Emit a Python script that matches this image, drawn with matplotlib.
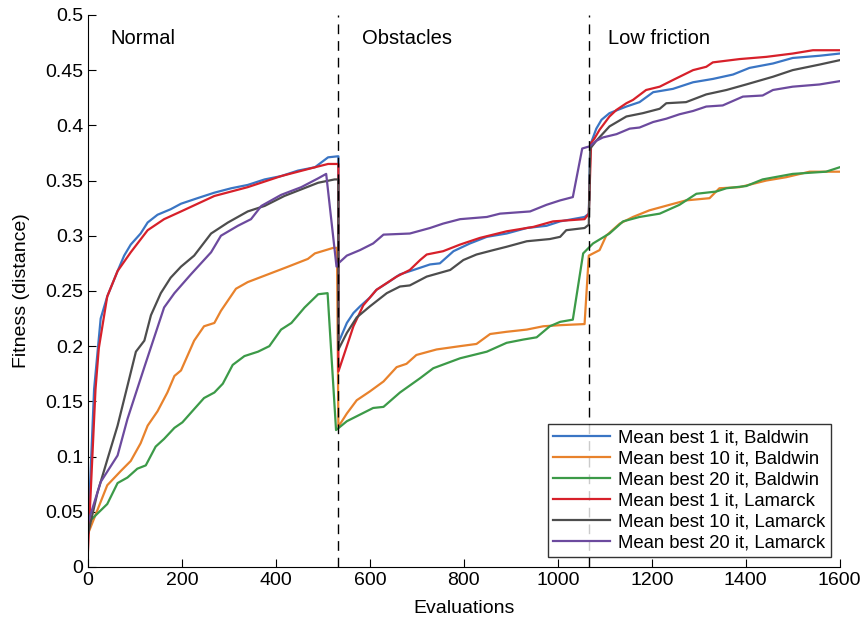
import numpy as np
import matplotlib
matplotlib.use("Agg")
import matplotlib.pyplot as plt

plt.rcParams['font.family'] = ['Liberation Sans', 'DejaVu Sans']

# (evaluations, fitness)
bw1 = [(0, 0.030), (13, 0.161), (27, 0.225), (41, 0.245), (63, 0.268), (77, 0.282), (91, 0.292),
       (112, 0.302), (127, 0.312), (148, 0.319), (176, 0.324), (198, 0.329), (233, 0.334), (269, 0.339),
       (305, 0.343), (340, 0.346), (376, 0.351), (411, 0.354), (447, 0.359), (483, 0.362), (511, 0.371),
       (533, 0.372), (533, 0.203), (551, 0.221), (565, 0.230), (579, 0.236), (600, 0.244), (614, 0.251),
       (636, 0.257), (664, 0.265), (693, 0.269), (728, 0.274), (749, 0.275), (778, 0.286), (813, 0.293),
       (849, 0.299), (891, 0.302), (934, 0.307), (976, 0.309), (1005, 0.313), (1057, 0.317), (1066, 0.320),
       (1069, 0.382), (1082, 0.397), (1093, 0.405), (1110, 0.411), (1146, 0.417), (1174, 0.421),
       (1203, 0.430), (1245, 0.433), (1288, 0.439), (1330, 0.442), (1373, 0.446), (1408, 0.452),
       (1458, 0.456), (1500, 0.461), (1557, 0.463), (1600, 0.465)]

bw10 = [(0, 0.030), (41, 0.074), (70, 0.087), (91, 0.096), (112, 0.112), (127, 0.128), (148, 0.141),
        (169, 0.158), (184, 0.173), (198, 0.178), (226, 0.205), (247, 0.218), (269, 0.221), (283, 0.232),
        (315, 0.252), (340, 0.258), (383, 0.265), (426, 0.272), (468, 0.279), (483, 0.284), (522, 0.289),
        (530, 0.289), (533, 0.127), (551, 0.139), (572, 0.151), (600, 0.159), (629, 0.168), (657, 0.181),
        (678, 0.184), (699, 0.192), (742, 0.197), (792, 0.200), (827, 0.202), (856, 0.211), (891, 0.213),
        (934, 0.215), (969, 0.218), (1005, 0.219), (1057, 0.220), (1066, 0.282), (1089, 0.287),
        (1103, 0.300), (1132, 0.311), (1160, 0.317), (1195, 0.323), (1238, 0.328), (1273, 0.332),
        (1323, 0.334), (1344, 0.343), (1387, 0.344), (1444, 0.350), (1486, 0.353), (1536, 0.358),
        (1600, 0.358)]

bw20 = [(0, 0.040), (41, 0.057), (63, 0.076), (84, 0.081), (105, 0.089), (123, 0.092), (144, 0.109),
        (162, 0.116), (184, 0.126), (201, 0.131), (226, 0.143), (247, 0.153), (269, 0.158), (287, 0.166),
        (308, 0.183), (333, 0.191), (362, 0.195), (386, 0.200), (411, 0.215), (433, 0.221), (461, 0.235),
        (490, 0.247), (510, 0.248), (528, 0.124), (551, 0.132), (607, 0.144), (629, 0.145), (664, 0.158),
        (707, 0.171), (735, 0.180), (792, 0.189), (849, 0.195), (891, 0.203), (927, 0.206), (955, 0.208),
        (983, 0.218), (1005, 0.222), (1032, 0.224), (1054, 0.284), (1075, 0.293), (1110, 0.302),
        (1139, 0.313), (1174, 0.317), (1217, 0.320), (1259, 0.328), (1295, 0.338), (1337, 0.340),
        (1359, 0.343), (1401, 0.345), (1436, 0.351), (1500, 0.356), (1571, 0.358), (1600, 0.362)]

lm1 = [(0, 0.015), (16, 0.161), (23, 0.198), (41, 0.245), (63, 0.268), (91, 0.285), (127, 0.305),
       (162, 0.315), (198, 0.322), (269, 0.336), (340, 0.344), (411, 0.354), (483, 0.362), (511, 0.365),
       (533, 0.365), (533, 0.177), (544, 0.191), (565, 0.218), (586, 0.237), (614, 0.251), (657, 0.263),
       (685, 0.269), (707, 0.278), (721, 0.283), (756, 0.286), (792, 0.292), (834, 0.298), (891, 0.304),
       (948, 0.308), (990, 0.313), (1057, 0.315), (1066, 0.320), (1071, 0.384), (1078, 0.388),
       (1089, 0.396), (1110, 0.408), (1125, 0.414), (1146, 0.420), (1160, 0.423), (1188, 0.432),
       (1217, 0.435), (1245, 0.441), (1288, 0.450), (1316, 0.453), (1330, 0.457), (1387, 0.460),
       (1444, 0.462), (1500, 0.465), (1543, 0.468), (1600, 0.468)]

lm10 = [(0, 0.030), (20, 0.067), (41, 0.097), (63, 0.128), (84, 0.164), (102, 0.195), (120, 0.205),
        (134, 0.228), (155, 0.248), (176, 0.262), (198, 0.272), (226, 0.282), (262, 0.302), (298, 0.312),
        (340, 0.322), (376, 0.327), (418, 0.336), (454, 0.342), (490, 0.348), (525, 0.351), (533, 0.351),
        (533, 0.197), (551, 0.212), (572, 0.226), (600, 0.236), (636, 0.248), (664, 0.254), (685, 0.255),
        (721, 0.263), (771, 0.269), (799, 0.278), (827, 0.283), (863, 0.287), (891, 0.290), (934, 0.295),
        (983, 0.297), (1005, 0.299), (1018, 0.305), (1057, 0.307), (1066, 0.310), (1069, 0.379),
        (1082, 0.386), (1110, 0.399), (1146, 0.408), (1181, 0.411), (1217, 0.415), (1231, 0.420),
        (1273, 0.421), (1316, 0.428), (1359, 0.432), (1401, 0.437), (1458, 0.444), (1500, 0.450),
        (1557, 0.455), (1600, 0.459)]

lm20 = [(0, 0.040), (27, 0.077), (63, 0.101), (84, 0.134), (120, 0.181), (162, 0.235), (184, 0.248),
        (219, 0.265), (262, 0.285), (283, 0.300), (319, 0.309), (347, 0.315), (369, 0.327), (411, 0.337),
        (454, 0.344), (490, 0.352), (507, 0.356), (529, 0.272), (533, 0.275), (551, 0.282), (579, 0.287),
        (607, 0.293), (629, 0.301), (685, 0.302), (728, 0.307), (756, 0.311), (792, 0.315), (849, 0.317),
        (877, 0.320), (941, 0.322), (976, 0.328), (1005, 0.332), (1032, 0.335), (1052, 0.379),
        (1068, 0.381), (1082, 0.386), (1096, 0.389), (1125, 0.392), (1153, 0.397), (1174, 0.398),
        (1203, 0.403), (1231, 0.406), (1259, 0.410), (1288, 0.413), (1316, 0.417), (1351, 0.418),
        (1394, 0.426), (1436, 0.427), (1458, 0.432), (1500, 0.435), (1557, 0.437), (1600, 0.440)]

labels = ["Mean best 1 it, Baldwin", "Mean best 10 it, Baldwin", "Mean best 20 it, Baldwin",
          "Mean best 1 it, Lamarck", "Mean best 10 it, Lamarck", "Mean best 20 it, Lamarck"]
colors = ["#3a75c4", "#e8822c", "#3c9a48", "#d7202a", "#4d4d4d", "#6c4a9e"]
series = [bw1, bw10, bw20, lm1, lm10, lm20]

phase_bounds = [533, 1066]
phase_names = ["Normal", "Obstacles", "Low friction"]
phase_text_x = [47, 583, 1107]

fig = plt.figure(figsize=(8.66, 6.21), dpi=100)
ax = fig.add_axes([0.1016, 0.087, 0.868, 0.889])

for data, c, lab in zip(series, colors, labels):
    arr = np.array(data)
    ax.plot(arr[:, 0], arr[:, 1], color=c, lw=1.6, label=lab)

for b in phase_bounds:
    ax.axvline(b, color='black', lw=1.0, ls=(0, (7, 5)))

for name, tx in zip(phase_names, phase_text_x):
    ax.text(tx, 0.479, name, fontsize=14.5, va='center', ha='left')

ax.set_xlim(0, 1600)
ax.set_ylim(0, 0.5)
ax.set_xticks(np.arange(0, 1601, 200))
ax.set_yticks(np.arange(0, 0.51, 0.05))
ax.set_yticklabels(["0", "0.05", "0.1", "0.15", "0.2", "0.25", "0.3", "0.35", "0.4", "0.45", "0.5"])
ax.tick_params(direction='in', length=6, labelsize=14, width=0.8)
ax.spines['top'].set_visible(False)
ax.spines['right'].set_visible(False)
ax.set_xlabel("Evaluations", fontsize=14, labelpad=8)
ax.set_ylabel("Fitness (distance)", fontsize=14, labelpad=11)

leg = ax.legend(loc='lower right', bbox_to_anchor=(0.988, 0.018), fontsize=13.3, frameon=True,
                fancybox=False, edgecolor='black', borderpad=0.3, labelspacing=0.22,
                handlelength=3.1, handletextpad=0.4, borderaxespad=0.0)
leg.get_frame().set_linewidth(1.0)
for line in leg.get_lines():
    line.set_linewidth(1.6)

fig.savefig("out.png", dpi=100)
